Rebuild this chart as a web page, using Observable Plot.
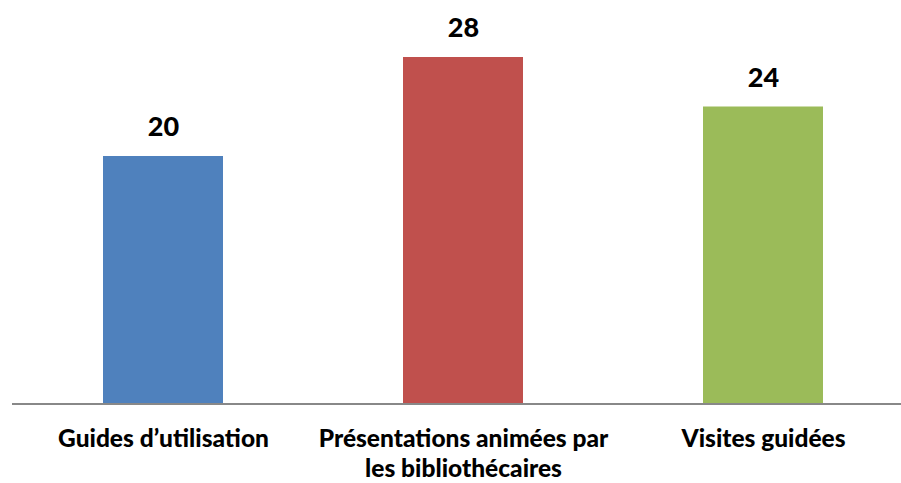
<!DOCTYPE html>
<html>
<head>
<meta charset="utf-8">
<script src="https://cdn.jsdelivr.net/npm/d3@7"></script>
<script src="https://cdn.jsdelivr.net/npm/@observablehq/plot@0.6"></script>
<style>
  html, body { margin: 0; padding: 0; background: #fff; }
  svg { display: block; }
</style>
</head>
<body>
<div id="chart"></div>
<script>
const categories = ["Guides d’utilisation", "Présentations animées par les bibliothécaires", "Visites guidées"];
const tickLabels = ["Guides d’utilisation", "Présentations animées par\nles bibliothécaires", "Visites guidées"];
const values = [20, 28, 24];
const colors = ["#4F81BD", "#C0504D", "#9BBB59"];

const data = categories.map((c, i) => ({category: c, value: values[i], color: colors[i], label: tickLabels[i]}));

const chart = Plot.plot({
  width: 901,
  height: 483,
  marginTop: 57,
  marginBottom: 79.5,
  marginLeft: 12,
  marginRight: 0,
  style: {fontFamily: "Lato, sans-serif", background: "#fff", overflow: "visible"},
  x: {domain: categories, paddingInner: 0.6, paddingOuter: 0.279, align: 0.537, axis: null},
  y: {domain: [0, 28], axis: null},
  marks: [
    Plot.barY(data, {x: "category", y: "value", fill: "color"}),
    Plot.ruleY([0], {stroke: "#888888", strokeWidth: 2}),
    Plot.text(data, {x: "category", y: "value", text: d => String(d.value), dy: -29, fontSize: 27, fontWeight: 900, fill: "#000"}),
    Plot.axisX({domain: categories, tickSize: 0, tickPadding: 0, tickFormat: (d, i) => tickLabels[i], fontSize: 24.5, fontWeight: 900, fill: "#000", lineHeight: 1.22, textAnchor: "middle", dy: 22, label: null})
  ]
});
document.getElementById("chart").appendChild(chart);
</script>
</body>
</html>
